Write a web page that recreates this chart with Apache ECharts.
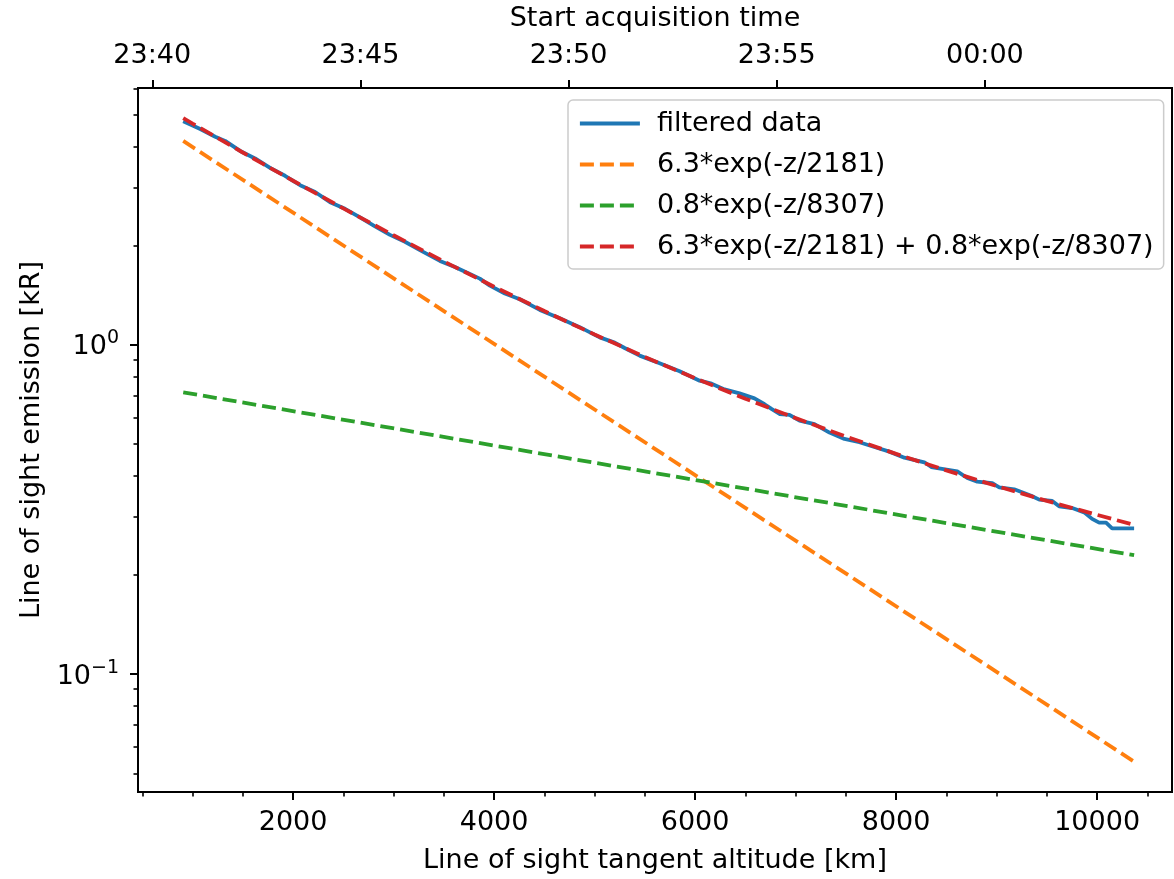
<!DOCTYPE html>
<html>
<head>
<meta charset="utf-8">
<script src="https://cdn.jsdelivr.net/npm/echarts@6/dist/echarts.min.js"></script>
<style>
html,body{margin:0;padding:0;background:#fff;}
#chart{width:1174px;height:879px;}
</style>
</head>
<body>
<div id="chart"></div>
<script>
// ---- data ----
const blueZ = [907,1076,1225,1324,1473,1622,1771,1920,2070,2219,2368,2517,2666,2815,2964,3113,3262,3461,3610,3759,3858,3958,4107,4256,4455,4653,4852,5051,5200,5299,5448,5647,5846,6045,6164,6293,6442,6591,6691,6760,6840,6939,7039,7188,7337,7486,7635,7784,7933,8082,8281,8350,8609,8708,8808,8957,9026,9175,9344,9424,9553,9622,9752,9871,9950,10020,10089,10149,10368];
const blueV = [4.774,4.519,4.283,4.158,3.877,3.679,3.443,3.259,3.051,2.910,2.710,2.587,2.436,2.287,2.156,2.055,1.939,1.797,1.722,1.639,1.588,1.512,1.431,1.375,1.276,1.203,1.131,1.053,1.015,0.9775,0.9270,0.8784,0.8305,0.7778,0.7620,0.7319,0.7116,0.6876,0.6597,0.6386,0.6163,0.6129,0.5886,0.5741,0.5411,0.5176,0.5058,0.4893,0.4737,0.4541,0.4397,0.4253,0.4126,0.3940,0.3841,0.3798,0.3691,0.3640,0.3479,0.3386,0.3357,0.3231,0.3193,0.3098,0.2960,0.2885,0.2885,0.2770,0.2770];
const orangeZ = [907,10368];
const orangeV = [4.157,0.05423];
const greenZ = [907,10368];
const greenV = [0.7173,0.2296];
const redZ = [907,1000,1500,2000,2500,3000,3500,4000,4500,5000,5500,6000,6500,7000,7500,8000,8500,9000,9500,10000,10368];
const redV = [4.874,4.692,3.835,3.147,2.594,2.150,1.791,1.5008,1.2657,1.0746,0.9187,0.7909,0.6858,0.5989,0.5266,0.4662,0.4155,0.3725,0.3357,0.3044,0.2838];
const seriesNames = ['filtered data','6.3*exp(-z/2181)','0.8*exp(-z/8307)','6.3*exp(-z/2181) + 0.8*exp(-z/8307)'];
const xMajorTicks = [2000,4000,6000,8000,10000];
const xMinorTicks = [500,1000,1500,2500,3000,3500,4500,5000,5500,6500,7000,7500,8500,9000,9500,10500];
const timeTickMinutes = [0,5,10,15,20];
const timeTickLabels = ['23:40','23:45','23:50','23:55','00:00'];
const yMajorTicks = [0.1,1];
const yMajorLabels = ['{b|10}{s|\u22121}','{b|10}{s|0}'];
const yMinorTicks = [0.05,0.06,0.07,0.08,0.09,0.2,0.3,0.4,0.5,0.6,0.7,0.8,0.9,2,3,4,5,6];

// axis ranges
const X_MIN = 457, X_MAX = 10745;
const Z_AT_2340 = 599, KM_PER_MIN = 414.2;
const Y_MIN = 0.04386, Y_MAX = 6.02;

const pairs = (zs, vs) => zs.map((z, i) => [z, vs[i]]);
const FONT = 'DejaVu Sans';
const FS = 27;
const LW = 3.8;
const DASH = [14, 6];

const chart = echarts.init(document.getElementById('chart'), null, {renderer: 'canvas'});
const option = {
  animation: false,
  backgroundColor: '#ffffff',
  textStyle: {fontFamily: FONT},
  grid: {left: 138, right: 2, top: 87, bottom: 85, show: true, borderColor: '#000', borderWidth: 2, backgroundColor: 'transparent'},
  legend: {
    orient: 'vertical', left: 568, top: 100,
    data: seriesNames,
    itemWidth: 60, itemHeight: 14, itemGap: 14,
    padding: [10, 10, 9, 10],
    borderColor: '#cccccc', borderWidth: 1.5, borderRadius: 5,
    backgroundColor: 'rgba(255,255,255,0.85)',
    itemStyle: {opacity: 0},
    lineStyle: {width: LW},
    textStyle: {fontFamily: FONT, fontSize: FS, color: '#000', padding: [0, 0, 0, 12]}
  },
  xAxis: [
    { // bottom main axis
      type: 'value', position: 'bottom', min: X_MIN, max: X_MAX,
      name: 'Line of sight tangent altitude [km]', nameLocation: 'middle', nameGap: 55,
      nameTextStyle: {fontFamily: FONT, fontSize: FS, color: '#000'},
      axisLine: {show: true, onZero: false, lineStyle: {color: '#000', width: 2}},
      axisTick: {show: true, length: 8, lineStyle: {color: '#000', width: 2}, customValues: xMajorTicks},
      axisLabel: {show: true, margin: 17, fontFamily: FONT, fontSize: FS, color: '#000', customValues: xMajorTicks,
        formatter: v => String(v)},
      splitLine: {show: false}
    },
    { // top time axis
      type: 'value', position: 'top',
      min: (X_MIN - Z_AT_2340) / KM_PER_MIN, max: (X_MAX - Z_AT_2340) / KM_PER_MIN,
      name: 'Start acquisition time', nameLocation: 'middle', nameGap: 56,
      nameTextStyle: {fontFamily: FONT, fontSize: FS, color: '#000'},
      axisLine: {show: true, onZero: false, lineStyle: {color: '#000', width: 2}},
      axisTick: {show: true, length: 8, lineStyle: {color: '#000', width: 2}, customValues: timeTickMinutes},
      axisLabel: {show: true, margin: 19, fontFamily: FONT, fontSize: FS, color: '#000', customValues: timeTickMinutes,
        formatter: v => { const i = timeTickMinutes.indexOf(Math.round(v)); return i >= 0 ? timeTickLabels[i] : ''; }},
      splitLine: {show: false}
    },
    { // bottom minor ticks
      type: 'value', position: 'bottom', min: X_MIN, max: X_MAX,
      axisLine: {show: false, onZero: false},
      axisTick: {show: true, length: 4.5, lineStyle: {color: '#000', width: 1.6}, customValues: xMinorTicks},
      axisLabel: {show: false},
      splitLine: {show: false}
    }
  ],
  yAxis: [
    {
      type: 'log', logBase: 10, position: 'left', min: Y_MIN, max: Y_MAX,
      name: 'Line of sight emission [kR]', nameLocation: 'middle', nameGap: 92,
      nameTextStyle: {fontFamily: FONT, fontSize: FS, color: '#000'},
      axisLine: {show: true, onZero: false, lineStyle: {color: '#000', width: 2}},
      axisTick: {show: true, length: 8, lineStyle: {color: '#000', width: 2}, customValues: yMajorTicks},
      axisLabel: {show: true, margin: 19, customValues: yMajorTicks,
        formatter: v => { const i = yMajorTicks.findIndex(t => Math.abs(t - v) / t < 1e-6); return i >= 0 ? yMajorLabels[i] : ''; },
        rich: {
          b: {fontFamily: FONT, fontSize: FS, color: '#000', lineHeight: 32, verticalAlign: 'bottom'},
          s: {fontFamily: FONT, fontSize: 19, color: '#000', lineHeight: 20, verticalAlign: 'top'}
        }},
      splitLine: {show: false}
    },
    {
      type: 'log', logBase: 10, position: 'left', min: Y_MIN, max: Y_MAX,
      axisLine: {show: false, onZero: false},
      axisTick: {show: true, length: 4.5, lineStyle: {color: '#000', width: 1.6}, customValues: yMinorTicks},
      axisLabel: {show: false},
      splitLine: {show: false}
    }
  ],
  series: [
    {name: seriesNames[0], type: 'line', data: pairs(blueZ, blueV), xAxisIndex: 0, yAxisIndex: 0, showSymbol: false, symbol: 'none',
      lineStyle: {color: '#1f77b4', width: LW}, itemStyle: {color: '#1f77b4'}, z: 2},
    {name: seriesNames[1], type: 'line', data: pairs(orangeZ, orangeV), xAxisIndex: 0, yAxisIndex: 0, showSymbol: false, symbol: 'none',
      lineStyle: {color: '#ff7f0e', width: LW, type: DASH}, itemStyle: {color: '#ff7f0e'}, z: 3},
    {name: seriesNames[2], type: 'line', data: pairs(greenZ, greenV), xAxisIndex: 0, yAxisIndex: 0, showSymbol: false, symbol: 'none',
      lineStyle: {color: '#2ca02c', width: LW, type: DASH}, itemStyle: {color: '#2ca02c'}, z: 4},
    {name: seriesNames[3], type: 'line', data: pairs(redZ, redV), xAxisIndex: 0, yAxisIndex: 0, showSymbol: false, symbol: 'none',
      lineStyle: {color: '#d62728', width: LW, type: DASH}, itemStyle: {color: '#d62728'}, z: 5}
  ]
};
chart.setOption(option);
</script>
</body>
</html>
